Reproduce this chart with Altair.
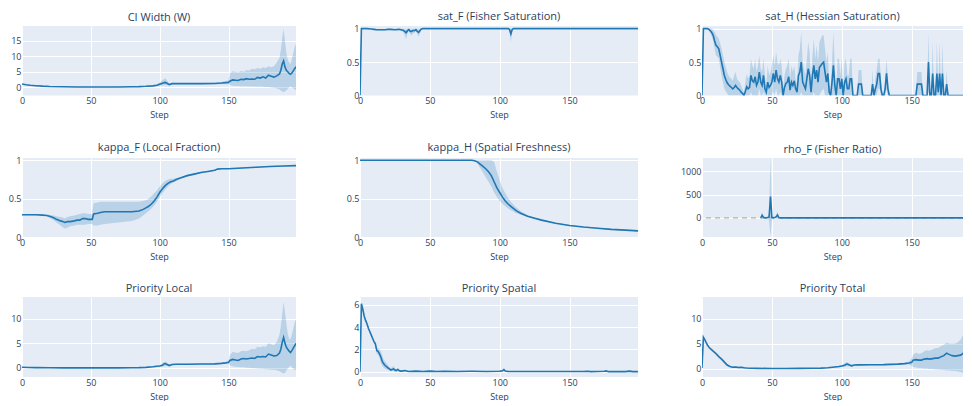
import altair as alt
import pandas as pd

BLUE = "#1f77b4"
TXT = "#2a3f5f"
FONT = "Open Sans"

# ---------------- data ----------------
# CI Width (W)
ci_step = [0, 3, 6, 10, 15, 20, 30, 40, 50, 60, 70, 80, 85, 90, 95, 98, 100, 102, 104, 105, 107, 109, 112, 120, 130, 140, 145, 150,
           151, 153, 155, 157, 159, 161, 163, 165, 167, 169, 171, 173, 175, 177, 179, 181, 183, 185, 187, 188, 189, 190, 191, 192,
           193, 194, 195, 196, 197, 198, 199]
ci_mean = [1.1, 0.85, 0.7, 0.55, 0.4, 0.3, 0.2, 0.15, 0.12, 0.12, 0.15, 0.2, 0.25, 0.35, 0.5, 0.7, 1.0, 1.3, 1.6, 1.4, 0.9, 1.2, 1.2,
           1.2, 1.2, 1.25, 1.4, 1.6, 2.0, 2.4, 2.3, 2.2, 2.6, 2.5, 2.8, 2.6, 2.7, 2.6, 3.2, 3.0, 3.4, 3.0, 3.9, 3.6, 3.3, 3.7, 4.3,
           5.5, 7.5, 8.5, 6.5, 5.5, 5.0, 4.5, 4.2, 4.6, 5.3, 6.0, 6.6]
ci_lo = [1.0, 0.8, 0.65, 0.5, 0.38, 0.28, 0.18, 0.13, 0.1, 0.1, 0.12, 0.15, 0.18, 0.25, 0.3, 0.4, 0.5, 0.6, 0.7, 0.7, 0.7, 0.9, 1.0,
         1.0, 1.0, 1.0, 1.0, 1.0, 0.8, 0.5, 0.45, 0.45, 0.4, 0.4, 0.35, 0.35, 0.3, 0.3, 0.3, 0.25, 0.2, 0.15, 0.1, 0.0, -0.1, -0.3,
         -0.7, -1.0, -1.3, -1.5, -1.3, -0.9, -0.5, 0.0, 0.3, 0.0, -0.3, -0.6, -0.8]
ci_hi = [1.2, 0.9, 0.75, 0.6, 0.42, 0.32, 0.22, 0.17, 0.14, 0.14, 0.18, 0.25, 0.32, 0.45, 0.7, 1.0, 1.6, 2.2, 2.9, 2.4, 1.2, 1.5, 1.4,
         1.4, 1.4, 1.5, 1.8, 2.3, 4.5, 5.2, 5.0, 4.8, 5.3, 5.0, 5.5, 5.4, 6.0, 5.8, 6.2, 6.0, 6.5, 6.2, 6.8, 6.5, 6.8, 8.0, 9.5,
         12.0, 16.0, 18.8, 15.0, 11.0, 9.0, 8.0, 7.5, 9.0, 11.0, 13.0, 14.0]

# sat_F (Fisher Saturation)
sf_step = [0, 1, 2, 5, 8, 10, 12, 15, 18, 20, 22, 25, 28, 30, 31, 32, 33, 34, 35, 36, 37, 38, 39, 40, 41, 42, 43, 44, 45, 50, 60,
           80, 100, 105, 106, 107, 108, 109, 110, 111, 120, 150, 199]
sf_mean = [0.0, 1.0, 1.0, 1.0, 0.995, 0.99, 0.985, 0.985, 0.985, 0.99, 0.99, 0.985, 0.99, 0.98, 0.975, 0.96, 0.94, 0.97, 0.985,
           0.96, 0.96, 0.975, 0.97, 0.985, 0.96, 0.945, 0.975, 0.995, 1.0, 1.0, 1.0, 1.0, 1.0, 1.0, 1.0, 0.99, 0.92, 0.99, 1.0,
           1.0, 1.0, 1.0, 1.0]
sf_lo = [0.0, 1.0, 1.0, 1.0, 0.99, 0.98, 0.975, 0.975, 0.975, 0.98, 0.98, 0.975, 0.98, 0.96, 0.95, 0.9, 0.84, 0.93, 0.965, 0.92,
         0.9, 0.93, 0.94, 0.96, 0.92, 0.88, 0.94, 0.985, 1.0, 1.0, 1.0, 1.0, 1.0, 1.0, 1.0, 0.98, 0.79, 0.98, 1.0, 1.0, 1.0, 1.0, 1.0]
sf_hi = [0.0, 1.0, 1.0, 1.0, 1.0, 1.0, 0.995, 0.995, 0.995, 1.0, 1.0, 0.995, 1.0, 1.0, 1.0, 1.0, 1.0, 1.0, 1.0, 1.0, 1.0, 1.0,
         1.0, 1.0, 1.0, 1.0, 1.0, 1.0, 1.0, 1.0, 1.0, 1.0, 1.0, 1.0, 1.0, 1.0, 1.0, 1.0, 1.0, 1.0, 1.0, 1.0, 1.0]

# sat_H (Hessian Saturation), one value per step 0..199
sh_step = list(range(200))
sh_mean = [0.0, 1.0, 1.0, 1.0, 1.0, 0.99, 0.97, 0.94, 0.9, 0.82,
           0.75, 0.73, 0.7, 0.6, 0.5, 0.4, 0.3, 0.24, 0.19, 0.16,
           0.14, 0.12, 0.1, 0.12, 0.15, 0.12, 0.1, 0.08, 0.05, 0.03,
           0.0, 0.06, 0.13, 0.1, 0.12, 0.3, 0.22, 0.2, 0.28, 0.15,
           0.2, 0.35, 0.2, 0.15, 0.3, 0.1, 0.05, 0.2, 0.12, 0.15,
           0.2, 0.33, 0.2, 0.38, 0.25, 0.2, 0.3, 0.2, 0.0, 0.12,
           0.18, 0.2, 0.28, 0.08, 0.2, 0.15, 0.22, 0.1, 0.05, 0.3,
           0.35, 0.5, 0.2, 0.15, 0.1, 0.25, 0.4, 0.3, 0.05, 0.3,
           0.45, 0.25, 0.38, 0.2, 0.42, 0.45, 0.48, 0.5, 0.35, 0.2,
           0.33, 0.05, 0.0, 0.2, 0.45, 0.15, 0.0, 0.25, 0.25, 0.1,
           0.25, 0.0, 0.2, 0.25, 0.1, 0.1, 0.25, 0.25, 0.0, 0.0,
           0.0, 0.0, 0.17, 0.17, 0.17, 0.0, 0.0, 0.0, 0.0, 0.0,
           0.0, 0.0, 0.17, 0.0, 0.1, 0.17, 0.33, 0.33, 0.1, 0.0,
           0.0, 0.1, 0.33, 0.1, 0.0, 0.0, 0.0, 0.0, 0.0, 0.0,
           0.0, 0.0, 0.0, 0.0, 0.0, 0.0, 0.0, 0.0, 0.0, 0.0,
           0.0, 0.0, 0.0, 0.0, 0.17, 0.17, 0.17, 0.17, 0.0, 0.0,
           0.0, 0.0, 0.5, 0.0, 0.0, 0.33, 0.0, 0.0, 0.33, 0.05,
           0.33, 0.0, 0.33, 0.0, 0.0, 0.17, 0.0, 0.0, 0.0, 0.0,
           0.0, 0.0, 0.0, 0.0, 0.0, 0.0, 0.0, 0.0, 0.0, 0.17,
           0.0, 0.0, 0.1, 0.17, 0.0, 0.0, 0.0, 0.0, 0.0, 0.0]
sh_lo = [0.0, 1.0, 1.0, 1.0, 0.99, 0.97, 0.94, 0.88, 0.82, 0.7,
         0.6, 0.58, 0.55, 0.42, 0.3, 0.2, 0.1, 0.06, 0.03, 0.0,
         0.0, 0.0, 0.0, 0.0, 0.0, 0.0, 0.0, 0.0, 0.0, 0.0,
         0.0, 0.0, 0.0, 0.0, 0.0, 0.05, 0.0, 0.0, 0.0, 0.0,
         0.0, 0.1, 0.0, 0.0, 0.05, 0.0, 0.0, 0.0, 0.0, 0.0,
         0.0, 0.06, 0.0, 0.1, 0.0, 0.0, 0.05, 0.0, 0.0, 0.0,
         0.0, 0.0, 0.0, 0.0, 0.0, 0.0, 0.0, 0.0, 0.0, 0.0,
         0.0, 0.05, 0.0, 0.0, 0.0, 0.0, 0.0, 0.0, 0.0, 0.0,
         0.05, 0.0, 0.0, 0.0, 0.0, 0.05, 0.08, 0.1, 0.0, 0.0,
         0.0, 0.0, 0.0, 0.0, 0.0, 0.0, 0.0, 0.0, 0.0, 0.0,
         0.0, 0.0, 0.0, 0.0, 0.0, 0.0, 0.0, 0.0, 0.0, 0.0,
         0.0, 0.0, 0.0, 0.0, 0.0, 0.0, 0.0, 0.0, 0.0, 0.0,
         0.0, 0.0, 0.0, 0.0, 0.0, 0.0, 0.1, 0.1, 0.0, 0.0,
         0.0, 0.0, 0.1, 0.0, 0.0, 0.0, 0.0, 0.0, 0.0, 0.0,
         0.0, 0.0, 0.0, 0.0, 0.0, 0.0, 0.0, 0.0, 0.0, 0.0,
         0.0, 0.0, 0.0, 0.0, 0.0, 0.0, 0.0, 0.0, 0.0, 0.0,
         0.0, 0.0, 0.05, 0.0, 0.0, 0.0, 0.0, 0.0, 0.0, 0.0,
         0.0, 0.0, 0.0, 0.0, 0.0, 0.0, 0.0, 0.0, 0.0, 0.0,
         0.0, 0.0, 0.0, 0.0, 0.0, 0.0, 0.0, 0.0, 0.0, 0.0,
         0.0, 0.0, 0.0, 0.0, 0.0, 0.0, 0.0, 0.0, 0.0, 0.0]
sh_hi = [0.0, 1.0, 1.0, 1.0, 1.0, 1.0, 1.0, 1.0, 0.98, 0.95,
         0.9, 0.88, 0.85, 0.78, 0.7, 0.6, 0.5, 0.42, 0.35, 0.3,
         0.27, 0.25, 0.22, 0.3, 0.35, 0.25, 0.22, 0.2, 0.15, 0.1,
         0.05, 0.2, 0.32, 0.25, 0.3, 0.55, 0.45, 0.4, 0.55, 0.35,
         0.45, 0.6, 0.4, 0.35, 0.55, 0.3, 0.15, 0.45, 0.3, 0.35,
         0.45, 0.6, 0.45, 0.65, 0.5, 0.45, 0.55, 0.45, 0.1, 0.3,
         0.4, 0.45, 0.55, 0.25, 0.45, 0.35, 0.45, 0.25, 0.15, 0.6,
         0.7, 0.95, 0.5, 0.4, 0.3, 0.55, 0.8, 0.65, 0.2, 0.6,
         0.85, 0.55, 0.75, 0.5, 0.8, 0.85, 0.9, 0.9, 0.7, 0.5,
         0.65, 0.2, 0.05, 0.5, 0.95, 0.45, 0.05, 0.55, 0.55, 0.3,
         0.55, 0.05, 0.5, 0.55, 0.3, 0.3, 0.55, 0.55, 0.0, 0.0,
         0.0, 0.0, 0.38, 0.38, 0.38, 0.0, 0.0, 0.0, 0.0, 0.0,
         0.0, 0.0, 0.38, 0.0, 0.25, 0.38, 0.55, 0.55, 0.25, 0.0,
         0.0, 0.25, 0.55, 0.25, 0.0, 0.0, 0.0, 0.0, 0.0, 0.0,
         0.0, 0.0, 0.0, 0.0, 0.0, 0.0, 0.0, 0.0, 0.0, 0.0,
         0.0, 0.0, 0.0, 0.0, 0.35, 0.35, 0.35, 0.35, 0.0, 0.0,
         0.0, 0.0, 0.95, 0.0, 0.0, 0.8, 0.0, 0.0, 0.8, 0.15,
         0.8, 0.0, 0.8, 0.0, 0.0, 0.38, 0.0, 0.0, 0.0, 0.0,
         0.0, 0.0, 0.0, 0.0, 0.0, 0.0, 0.0, 0.0, 0.0, 0.38,
         0.0, 0.0, 0.25, 0.38, 0.0, 0.0, 0.0, 0.0, 0.0, 0.0]

# kappa_F (Local Fraction)
kf_step = [0, 5, 10, 15, 18, 20, 23, 25, 28, 30, 31, 33, 35, 38, 40, 42, 44, 46, 48, 50, 51, 52, 55, 57, 60, 70, 80, 85, 88, 90,
           92, 94, 96, 98, 100, 102, 104, 106, 108, 110, 112, 115, 120, 125, 130, 135, 140, 142, 145, 150, 160, 170, 180, 190, 199]
kf_mean = [0.29, 0.29, 0.29, 0.285, 0.28, 0.27, 0.25, 0.23, 0.21, 0.2, 0.19, 0.2, 0.2, 0.21, 0.22, 0.22, 0.24, 0.24, 0.23, 0.23,
           0.23, 0.3, 0.31, 0.32, 0.33, 0.33, 0.33, 0.34, 0.36, 0.38, 0.4, 0.43, 0.47, 0.52, 0.58, 0.63, 0.67, 0.7, 0.72, 0.73,
           0.75, 0.77, 0.8, 0.82, 0.84, 0.855, 0.87, 0.885, 0.89, 0.89, 0.9, 0.91, 0.92, 0.925, 0.93]
kf_lo = [0.285, 0.285, 0.285, 0.28, 0.27, 0.25, 0.22, 0.19, 0.15, 0.12, 0.11, 0.12, 0.14, 0.15, 0.16, 0.16, 0.16, 0.16, 0.17,
         0.17, 0.17, 0.15, 0.15, 0.16, 0.17, 0.19, 0.21, 0.24, 0.28, 0.31, 0.34, 0.37, 0.41, 0.46, 0.52, 0.57, 0.62, 0.66, 0.69,
         0.71, 0.73, 0.76, 0.79, 0.81, 0.83, 0.85, 0.865, 0.88, 0.885, 0.885, 0.895, 0.905, 0.915, 0.92, 0.925]
kf_hi = [0.295, 0.295, 0.295, 0.29, 0.29, 0.29, 0.28, 0.27, 0.26, 0.25, 0.24, 0.26, 0.27, 0.28, 0.29, 0.3, 0.31, 0.31, 0.3,
         0.3, 0.3, 0.44, 0.45, 0.46, 0.46, 0.46, 0.46, 0.46, 0.47, 0.48, 0.5, 0.53, 0.57, 0.61, 0.66, 0.7, 0.73, 0.75, 0.76,
         0.76, 0.77, 0.78, 0.81, 0.83, 0.85, 0.86, 0.875, 0.89, 0.895, 0.895, 0.905, 0.915, 0.925, 0.93, 0.935]

# kappa_H (Spatial Freshness)
kh_step = [0, 50, 80, 82, 84, 86, 88, 90, 92, 94, 96, 98, 100, 102, 104, 106, 108, 110, 112, 115, 120, 125, 130, 140, 150, 160,
           170, 180, 190, 199]
kh_mean = [1.0, 1.0, 1.0, 0.995, 0.98, 0.95, 0.92, 0.89, 0.85, 0.8, 0.72, 0.64, 0.58, 0.52, 0.47, 0.43, 0.4, 0.37, 0.34, 0.31,
           0.27, 0.245, 0.22, 0.18, 0.15, 0.13, 0.115, 0.1, 0.09, 0.08]
kh_lo = [1.0, 1.0, 1.0, 0.99, 0.96, 0.9, 0.84, 0.78, 0.72, 0.66, 0.58, 0.52, 0.47, 0.43, 0.4, 0.37, 0.35, 0.33, 0.31, 0.29,
         0.26, 0.235, 0.21, 0.175, 0.145, 0.125, 0.11, 0.095, 0.085, 0.075]
kh_hi = [1.0, 1.0, 1.0, 1.0, 1.0, 1.0, 1.0, 1.0, 1.0, 1.0, 0.98, 0.85, 0.74, 0.64, 0.57, 0.51, 0.46, 0.42, 0.38, 0.34, 0.285,
         0.255, 0.23, 0.185, 0.155, 0.135, 0.12, 0.105, 0.095, 0.085]

# rho_F (Fisher Ratio)
rf_step = [42, 43, 44, 45, 46, 47, 48, 49, 50, 51, 52, 53, 54, 55, 56, 60, 80, 100, 120, 150, 199]
rf_mean = [0, 55, 10, 0, 0, 5, 20, 460, 10, 0, 5, 20, 60, 5, 0, 0, 0, 0, 0, 0, 0]
rf_lo = [-5, -30, -5, -2, -2, -10, -60, -400, -40, -5, -5, -20, -20, -5, -2, -1, -1, -1, -1, -1, -1]
rf_hi = [5, 130, 25, 2, 2, 20, 100, 1290, 60, 5, 15, 60, 140, 15, 2, 1, 1, 1, 1, 1, 1]

# Priority Local
pl_step = [0, 5, 10, 20, 30, 40, 50, 60, 70, 80, 85, 90, 95, 98, 100, 102, 103, 104, 105, 107, 109, 112, 120, 130, 140, 145, 148,
           150, 151, 153, 155, 157, 159, 161, 163, 165, 167, 169, 171, 173, 175, 177, 179, 181, 183, 185, 187, 188, 189, 190,
           191, 192, 193, 194, 195, 196, 197, 198, 199]
pl_mean = [0.1, 0.05, 0.02, 0.0, -0.02, -0.03, -0.03, -0.03, -0.02, 0.0, 0.02, 0.08, 0.2, 0.3, 0.35, 0.5, 0.75, 0.85, 0.7, 0.45,
           0.65, 0.7, 0.72, 0.75, 0.8, 0.9, 1.0, 1.1, 1.5, 1.7, 1.6, 1.5, 1.8, 1.9, 1.8, 1.9, 2.0, 1.9, 2.3, 2.2, 2.3, 2.2, 2.8,
           2.6, 2.4, 2.5, 3.0, 3.8, 5.2, 6.2, 5.0, 4.2, 3.8, 3.4, 3.1, 3.5, 4.0, 4.5, 5.0]
pl_lo = [0.08, 0.04, 0.01, -0.01, -0.03, -0.04, -0.04, -0.04, -0.03, -0.02, 0.0, 0.03, 0.1, 0.15, 0.2, 0.25, 0.3, 0.35, 0.35,
         0.3, 0.5, 0.6, 0.62, 0.65, 0.7, 0.75, 0.8, 0.8, 0.5, 0.3, 0.2, 0.15, 0.1, 0.1, 0.0, 0.0, -0.1, -0.1, -0.15, -0.2, -0.2,
         -0.3, -0.3, -0.4, -0.4, -0.5, -0.7, -0.9, -1.1, -1.2, -1.1, -0.6, -0.2, 0.2, 0.4, 0.1, -0.2, -0.4, -0.5]
pl_hi = [0.12, 0.06, 0.03, 0.01, -0.01, -0.02, -0.02, -0.02, -0.01, 0.02, 0.05, 0.15, 0.3, 0.45, 0.55, 0.8, 1.1, 1.3, 1.1, 0.6,
         0.8, 0.8, 0.82, 0.85, 0.9, 1.05, 1.2, 1.4, 2.6, 3.2, 3.1, 3.0, 3.4, 3.5, 3.4, 3.6, 3.9, 3.8, 4.3, 4.2, 4.4, 4.3, 5.0,
         4.8, 4.6, 5.3, 6.8, 8.5, 11.0, 13.5, 11.5, 9.0, 7.0, 6.0, 5.8, 6.8, 8.0, 9.2, 10.0]

# Priority Spatial
ps_step = [0, 1, 2, 3, 4, 5, 6, 7, 8, 9, 10, 11, 12, 13, 14, 15, 16, 17, 18, 19, 20, 21, 22, 23, 24, 25, 26, 27, 28, 29, 30, 32,
           35, 40, 45, 50, 55, 60, 70, 80, 90, 100, 102, 103, 104, 106, 110, 120, 140, 160, 163, 165, 175, 176, 178, 190, 193,
           195, 199]
ps_mean = [0.0, 6.1, 5.6, 5.0, 4.6, 4.3, 3.9, 3.6, 3.3, 3.0, 2.7, 2.5, 1.9, 1.8, 1.6, 1.3, 0.9, 0.7, 0.55, 0.45, 0.35, 0.25,
           0.15, 0.2, 0.25, 0.15, 0.1, 0.2, 0.1, 0.05, 0.05, 0.1, 0.02, 0.05, 0.02, 0.05, 0.02, 0.03, 0.02, 0.03, 0.02, 0.03,
           0.08, 0.18, 0.05, 0.02, 0.02, 0.01, 0.01, 0.01, 0.04, 0.0, 0.03, 0.07, 0.0, 0.0, 0.05, 0.0, 0.0]
ps_lo = [0.0, 6.0, 5.5, 4.9, 4.5, 4.2, 3.8, 3.5, 3.2, 2.9, 2.6, 2.3, 1.6, 1.5, 1.2, 0.8, 0.5, 0.35, 0.25, 0.2, 0.15, 0.1, 0.05,
         0.05, 0.05, 0.0, 0.0, 0.05, 0.0, 0.0, 0.0, 0.03, -0.02, 0.0, -0.02, 0.0, -0.02, -0.01, -0.02, -0.01, -0.02, -0.01, 0.0,
         0.08, 0.0, -0.02, -0.02, -0.03, -0.03, -0.03, 0.0, -0.04, -0.01, 0.0, -0.04, -0.04, 0.0, -0.04, -0.04]
ps_hi = [0.0, 6.2, 5.7, 5.1, 4.7, 4.4, 4.0, 3.7, 3.4, 3.1, 2.8, 2.7, 2.1, 2.1, 2.0, 1.8, 1.4, 1.1, 0.9, 0.75, 0.6, 0.45, 0.3,
         0.4, 0.5, 0.3, 0.2, 0.35, 0.2, 0.1, 0.1, 0.17, 0.06, 0.1, 0.06, 0.1, 0.06, 0.07, 0.06, 0.07, 0.06, 0.07, 0.16, 0.28,
         0.1, 0.06, 0.06, 0.05, 0.05, 0.05, 0.08, 0.04, 0.07, 0.14, 0.04, 0.04, 0.1, 0.04, 0.04]

# Priority Total
pt_step = [0, 1, 2, 3, 4, 5, 6, 8, 10, 12, 14, 16, 18, 20, 22, 24, 26, 28, 30, 32, 35, 40, 50, 60, 70, 80, 85, 90, 95, 98, 100,
           102, 103, 104, 105, 107, 109, 112, 120, 130, 140, 145, 148, 150, 151, 153, 155, 157, 159, 161, 163, 165, 167, 169,
           171, 173, 175, 177, 179, 181, 183, 185, 187, 188, 189, 190, 191, 192, 193, 195, 199]
pt_mean = [0.1, 6.3, 5.8, 5.2, 4.7, 4.3, 4.0, 3.5, 3.0, 2.4, 1.9, 1.3, 0.7, 0.4, 0.25, 0.3, 0.2, 0.25, 0.15, 0.1, 0.05, 0.03,
           0.02, 0.02, 0.03, 0.05, 0.08, 0.15, 0.3, 0.4, 0.5, 0.65, 0.85, 0.9, 0.75, 0.55, 0.7, 0.75, 0.78, 0.8, 0.9, 1.0, 1.1,
           1.25, 1.7, 1.8, 1.7, 1.7, 1.9, 2.0, 1.9, 2.0, 2.1, 2.1, 2.4, 2.6, 3.1, 2.8, 2.6, 2.5, 2.6, 2.7, 3.1, 3.8, 5.0, 6.2,
           5.0, 4.2, 4.0, 4.5, 5.5]
pt_lo = [0.08, 6.2, 5.7, 5.1, 4.6, 4.2, 3.9, 3.4, 2.9, 2.2, 1.7, 1.0, 0.5, 0.25, 0.1, 0.1, 0.05, 0.1, 0.05, 0.02, 0.0, 0.0, 0.0,
         0.0, 0.0, 0.02, 0.04, 0.1, 0.2, 0.25, 0.3, 0.35, 0.4, 0.45, 0.45, 0.4, 0.55, 0.62, 0.65, 0.68, 0.75, 0.8, 0.8, 0.5,
         0.3, 0.2, 0.1, 0.1, 0.0, 0.0, -0.1, -0.1, -0.2, -0.2, -0.3, -0.3, -0.4, -0.4, -0.5, -0.5, -0.6, -0.7, -0.9, -1.1,
         -1.4, -1.6, -1.2, -0.6, -0.2, 0.0, -0.5]
pt_hi = [0.12, 6.4, 5.9, 5.3, 4.8, 4.4, 4.1, 3.6, 3.1, 2.6, 2.1, 1.6, 0.9, 0.55, 0.4, 0.5, 0.35, 0.4, 0.25, 0.18, 0.1, 0.06,
         0.04, 0.04, 0.06, 0.08, 0.12, 0.2, 0.4, 0.55, 0.7, 0.95, 1.2, 1.3, 1.05, 0.7, 0.85, 0.88, 0.9, 0.92, 1.05, 1.2, 1.4,
         2.0, 2.8, 3.2, 3.0, 3.1, 3.5, 3.7, 3.6, 3.9, 4.1, 4.2, 4.5, 4.8, 5.2, 5.0, 5.0, 5.0, 5.3, 5.8, 7.0, 8.5, 11.0, 13.5,
         11.5, 9.5, 8.5, 9.0, 11.0]

# ---------------- layout ----------------
COL_W = [274, 278, 261]
COL_XMAX = [199, 199, 186.7]
COL_EXT = [14, 22, 22]
ROW_H = [69.5, 79, 80]
ROW_TOFF = [3, 3, 3]


def panel(title, steps, mean, lo, hi, ydom, yvals, col, row, dashed_zero=False):
    df = pd.DataFrame({"step": steps, "mean": mean, "lo": lo, "hi": hi})
    xenc = alt.X("step:Q",
                 scale=alt.Scale(domain=[0, COL_XMAX[col]], nice=False, zero=False),
                 axis=alt.Axis(values=[0, 50, 100, 150], title="Step", labelFlush=False))
    yscale = alt.Scale(domain=ydom, nice=False, zero=False)
    yaxis = alt.Axis(values=yvals, title=None, format="~r",
                     minExtent=COL_EXT[col], maxExtent=COL_EXT[col])
    band = alt.Chart(df).mark_area(color=BLUE, opacity=0.22, clip=True).encode(
        x=xenc, y=alt.Y("lo:Q", scale=yscale, axis=yaxis), y2="hi:Q")
    layers = [band]
    if dashed_zero:
        zdf = pd.DataFrame({"z": [0]})
        layers.append(alt.Chart(zdf).mark_rule(color="#b0b0b0", strokeDash=[5, 4], strokeWidth=1.2).encode(
            y=alt.Y("z:Q", scale=yscale, axis=yaxis)))
    line = alt.Chart(df).mark_line(color=BLUE, strokeWidth=1.6, clip=True).encode(
        x=xenc, y=alt.Y("mean:Q", scale=yscale, axis=yaxis))
    layers.append(line)
    return alt.layer(*layers).properties(
        width=COL_W[col], height=ROW_H[row],
        title=alt.TitleParams(title, fontSize=11, font=FONT, color=TXT, fontWeight="normal",
                              frame="group", anchor="middle", offset=ROW_TOFF[row]))


panels = [
    panel("CI Width (W)", ci_step, ci_mean, ci_lo, ci_hi, [-2.6, 19.7], [0, 5, 10, 15], 0, 0),
    panel("sat_F (Fisher Saturation)", sf_step, sf_mean, sf_lo, sf_hi, [0, 1.04], [0, 0.5, 1], 1, 0),
    panel("sat_H (Hessian Saturation)", sh_step, sh_mean, sh_lo, sh_hi, [0, 1.04], [0, 0.5, 1], 2, 0),
    panel("kappa_F (Local Fraction)", kf_step, kf_mean, kf_lo, kf_hi, [0, 1.03], [0, 0.5, 1], 0, 1),
    panel("kappa_H (Spatial Freshness)", kh_step, kh_mean, kh_lo, kh_hi, [0, 1.03], [0, 0.5, 1], 1, 1),
    panel("rho_F (Fisher Ratio)", rf_step, rf_mean, rf_lo, rf_hi, [-413, 1289], [0, 500, 1000], 2, 1, dashed_zero=True),
    panel("Priority Local", pl_step, pl_mean, pl_lo, pl_hi, [-1.9, 14.5], [0, 5, 10], 0, 2),
    panel("Priority Spatial", ps_step, ps_mean, ps_lo, ps_hi, [-0.48, 6.7], [0, 2, 4, 6], 1, 2),
    panel("Priority Total", pt_step, pt_mean, pt_lo, pt_hi, [-1.7, 14.4], [0, 5, 10], 2, 2),
]

chart = alt.concat(*panels, columns=3, align="each", spacing={"row": 22, "column": 42}).properties(
    padding={"left": 0, "top": 2, "right": 0, "bottom": 0},
    background="white",
).configure_view(
    fill="#E5ECF6", stroke=None
).configure_axis(
    grid=True, gridColor="white", gridWidth=1, domain=False, ticks=False,
    labelFont=FONT, labelFontSize=9, labelColor=TXT, labelPadding=1,
    titleFont=FONT, titleFontSize=9, titleColor=TXT, titleFontWeight="normal", titlePadding=5,
)

chart.save("out.html", embed_options={"renderer": "svg", "actions": False})
